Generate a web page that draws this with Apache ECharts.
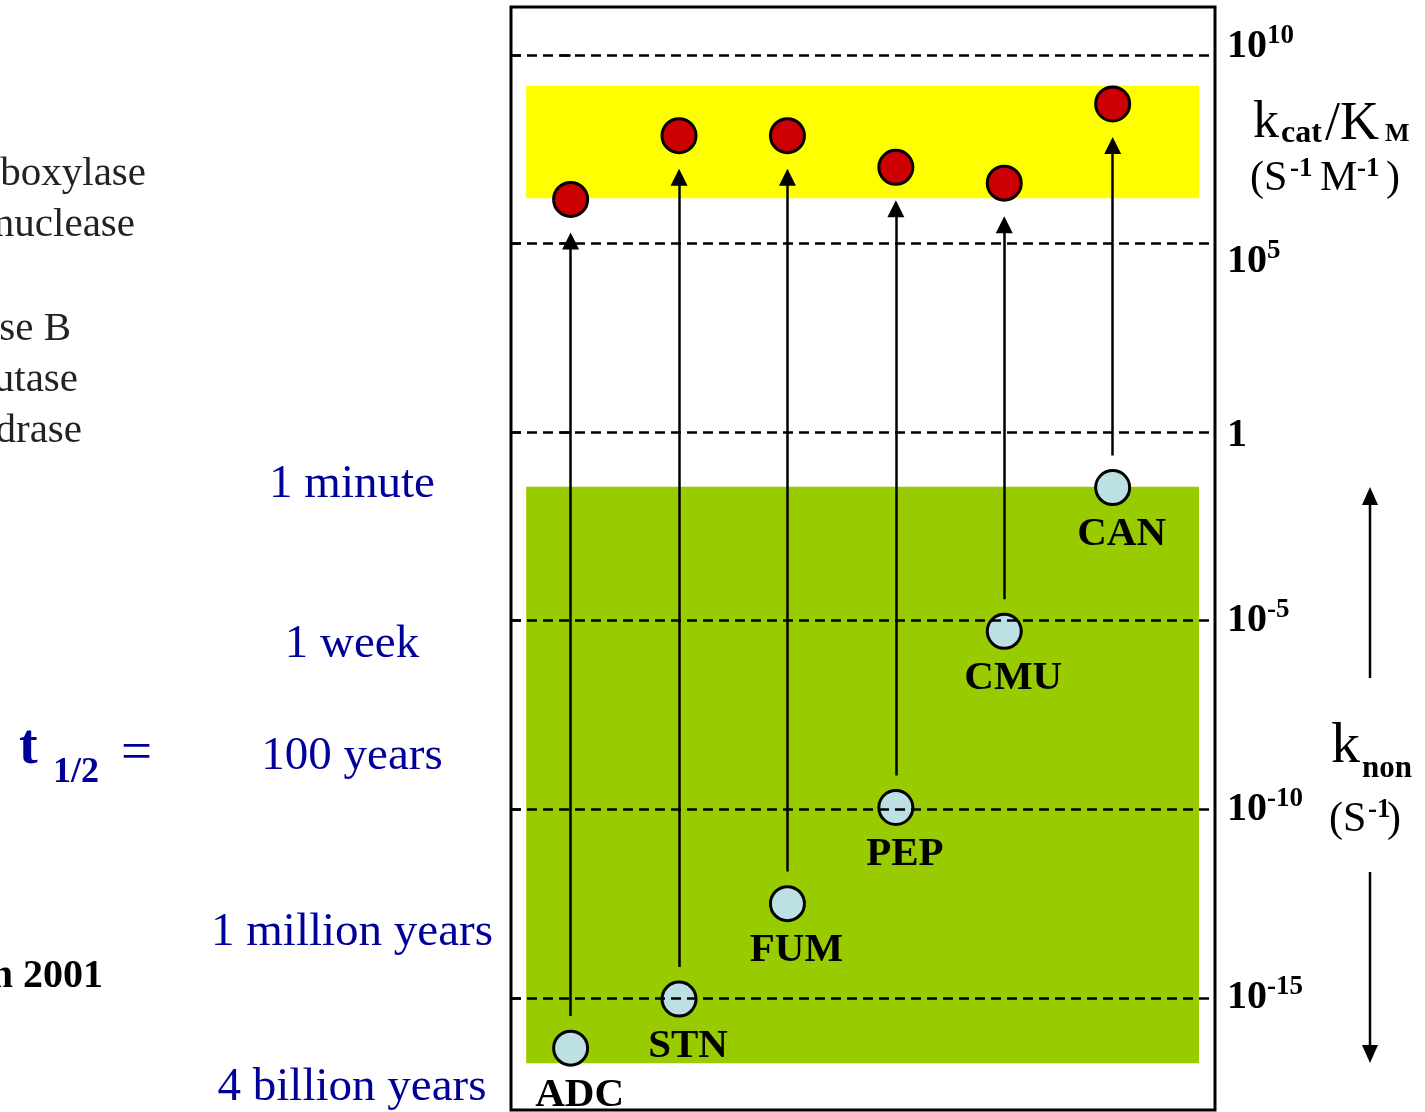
<!DOCTYPE html>
<html>
<head>
<meta charset="utf-8">
<script src="https://cdn.jsdelivr.net/npm/echarts@6/dist/echarts.min.js"></script>
<style>
  html, body { margin: 0; padding: 0; background: #fff; }
  #chart { width: 1425px; height: 1112px; }
</style>
</head>
<body>
<div id="chart"></div>
<script>
// enzymes, left to right
var enzymes = ['ADC', 'STN', 'FUM', 'PEP', 'CMU', 'CAN'];
// log10 of kcat/KM (s-1 M-1), red dots
var kcatKmLog = [6.17, 7.86, 7.86, 7.02, 6.6, 8.7];
// log10 of knon (s-1), blue dots
var knonLog = [-16.33, -15.03, -12.5, -9.95, -5.28, -1.47];
// tick exponents on the right axis
var tickLogs = [10, 5, 0, -5, -10, -15];
var halfLives = ['1 minute', '1 week', '100 years', '1 million years', '4 billion years'];
var enzymeNames = ['boxylase', 'nuclease', 'se B', 'utase', 'drase'];

var serif = 'Liberation Serif, Times New Roman, serif';
var navy = '#000099';

var chart = echarts.init(document.getElementById('chart'));

function txt(x, y, text, font, fill, align) {
  return {
    type: 'text', x: x, y: y,
    style: { text: text, font: font + ' ' + serif, fill: fill || '#000', textAlign: align || 'left', textVerticalAlign: 'top' }
  };
}

var graphics = [];
var nameTop = [154, 205, 309, 360, 411];
var nameRight = [146, 135, 71, 78, 82];
enzymeNames.forEach(function (n, i) {
  graphics.push(txt(nameRight[i], nameTop[i], n, '41px', '#222', 'right'));
});
var lifeY = [485, 645, 757, 933, 1088];
halfLives.forEach(function (t, i) {
  graphics.push({
    type: 'text', x: 352, y: lifeY[i],
    style: { text: t, fill: navy, font: '47px ' + serif, textAlign: 'center', textVerticalAlign: 'middle' }
  });
});
graphics.push(
  txt(19, 721, 't', 'bold 56px', navy),
  txt(53, 755, '1/2', 'bold 36px', navy),
  txt(121, 727, '=', '55px', navy),
  txt(103, 957, 'n 2001', 'bold 40px', '#000', 'right'),
  // kcat/KM
  txt(1253, 97, 'k', '52px'),
  txt(1281, 118, 'cat', 'bold 32px'),
  txt(1325, 98, '/K', '54px'),
  txt(1385, 121, 'M', 'bold 26px'),
  txt(1250, 158, '(S', '42px'),
  txt(1290, 156, '-1', 'bold 27px'),
  txt(1320, 158, 'M', '42px'),
  txt(1357, 156, '-1', 'bold 27px'),
  txt(1386, 158, ')', '42px'),
  // knon
  txt(1331, 718, 'k', '58px'),
  txt(1362, 753, 'non', 'bold 31px'),
  txt(1329, 799, '(S', '42px'),
  txt(1368, 797, '-1', 'bold 27px'),
  txt(1387, 799, ')', '42px'),
  // side arrows
  { type: 'line', shape: { x1: 1370, y1: 678, x2: 1370, y2: 502 }, style: { stroke: '#000', lineWidth: 2.5 } },
  { type: 'polygon', shape: { points: [[1370, 487], [1362, 505], [1378, 505]] }, style: { fill: '#000' } },
  { type: 'line', shape: { x1: 1370, y1: 872, x2: 1370, y2: 1048 }, style: { stroke: '#000', lineWidth: 2.5 } },
  { type: 'polygon', shape: { points: [[1370, 1063], [1362, 1045], [1378, 1045]] }, style: { fill: '#000' } }
);

// small vertical nudges of the axis labels, as pasted on the slide
var labelGap = { '10': 'dn', '5': 'up', '0': 'up2' };

var yAxisBase = {
  type: 'value', min: -17.97, max: 11.27,
  axisLine: { show: false },
  splitLine: { show: false },
  axisTick: { show: true, inside: true, length: 10, customValues: tickLogs, lineStyle: { color: '#000', width: 2.5 } }
};

chart.setOption({
  backgroundColor: '#fff',
  animation: false,
  grid: { left: 511, right: 210, top: 7, bottom: 2, show: true, borderColor: '#000', borderWidth: 3, backgroundColor: 'transparent' },
  xAxis: { type: 'value', min: -0.55, max: 5.944, show: false },
  yAxis: [
    Object.assign({}, yAxisBase, {
      position: 'right',
      axisLabel: {
        customValues: tickLogs, margin: 12,
        formatter: function (v) {
          var s = v === 0 ? '{b|1}' : '{b|10}{s|' + v + '}';
          var g = labelGap[String(v)];
          if (g === 'up') return '{g36| }\n' + s;
          if (g === 'up2') return '{g8| }\n' + s;
          if (g === 'dn') return s + '\n{g16| }';
          return s;
        },
        rich: {
          b: { fontFamily: serif, fontWeight: 'bold', fontSize: 40, color: '#000', lineHeight: 48 },
          s: { fontFamily: serif, fontWeight: 'bold', fontSize: 27, color: '#000', verticalAlign: 'top', lineHeight: 30 },
          g36: { fontSize: 10, lineHeight: 36, height: 36 },
          g16: { fontSize: 10, lineHeight: 16, height: 16 },
          g8: { fontSize: 6, lineHeight: 8, height: 8 }
        }
      }
    }),
    Object.assign({}, yAxisBase, { position: 'left', axisLabel: { show: false } })
  ],
  graphic: graphics,
  series: [
    {
      type: 'scatter', data: [], z: 1, silent: true,
      markArea: {
        silent: true,
        data: [
          [{ coord: [-0.41, 9.18], itemStyle: { color: '#FFFF00' } }, { coord: [5.797, 6.2] }],
          [{ coord: [-0.41, -1.45], itemStyle: { color: '#99CC00' } }, { coord: [5.797, -16.73] }]
        ]
      },
      markLine: {
        silent: true, symbol: 'none',
        label: { show: false },
        lineStyle: { color: '#000', width: 2.5, type: [10, 6] },
        data: tickLogs.map(function (v) { return { yAxis: v }; })
      }
    },
    {
      type: 'lines', coordinateSystem: 'cartesian2d', z: 2, silent: true,
      symbol: ['none', 'triangle'], symbolSize: 17,
      lineStyle: { color: '#000', width: 2.5, opacity: 1 },
      itemStyle: { color: '#000' },
      data: enzymes.map(function (e, i) {
        return { coords: [[i, knonLog[i] + 0.85], [i, kcatKmLog[i] - 1.1]] };
      })
    },
    {
      type: 'scatter', z: 3, symbolSize: 34,
      itemStyle: { color: '#CC0000', borderColor: '#000', borderWidth: 3, opacity: 1 },
      data: kcatKmLog.map(function (v, i) { return [i, v]; })
    },
    {
      type: 'scatter', z: 3, symbolSize: 34,
      itemStyle: { color: '#BCE0E4', borderColor: '#000', borderWidth: 3, opacity: 1 },
      label: {
        show: true, position: 'inside', offset: [9, 47],
        formatter: function (p) { return enzymes[p.dataIndex]; },
        fontFamily: serif, fontWeight: 'bold', fontSize: 41, color: '#000'
      },
      data: knonLog.map(function (v, i) { return [i, v]; })
    }
  ]
});
</script>
</body>
</html>
